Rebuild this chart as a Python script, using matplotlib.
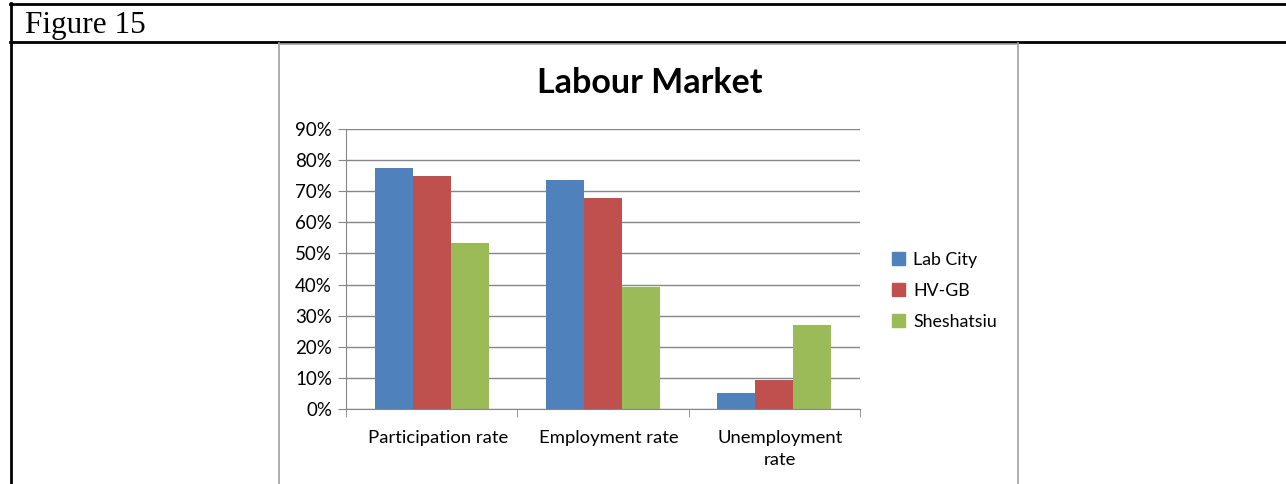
import matplotlib.pyplot as plt
import numpy as np
from matplotlib.lines import Line2D
from matplotlib.patches import Patch
from matplotlib.transforms import ScaledTranslation

categories = ['Participation rate', 'Employment rate', 'Unemployment\nrate']
series = ['Lab City', 'HV-GB', 'Sheshatsiu']
lab_city = [0.776, 0.736, 0.051]
hv_gb = [0.749, 0.678, 0.093]
sheshatsiu = [0.534, 0.392, 0.270]
colors = ['#4F81BD', '#C0504D', '#9BBB59']

W, H = 1286, 484
fig = plt.figure(figsize=(W / 100, H / 100), dpi=100)

# figure / table frame
def hline(y, x0, x1, c='black', lw=2):
    fig.add_artist(Line2D([x0 / W, x1 / W], [1 - y / H, 1 - y / H], color=c, lw=lw))

def vline(x, y0, y1, c='black', lw=2):
    fig.add_artist(Line2D([x / W, x / W], [1 - y0 / H, 1 - y1 / H], color=c, lw=lw))

hline(4, 10, W)
hline(41.5, 10, W)
vline(11, 3, H)
vline(279, 43, H, c='#a0a0a0', lw=1.2)
vline(1018, 43, H, c='#a0a0a0', lw=1.2)
hline(43.5, 279, 1018, c='#a0a0a0', lw=1.2)

fig.text(25 / W, 1 - 33 / H, 'Figure 15', family='Liberation Serif', fontsize=22.5,
         va='baseline', ha='left')

ax = fig.add_axes([346 / W, 75 / H, (860 - 346) / W, (409 - 129) / H])
x = np.arange(len(categories))
bw = 0.222
for i, (vals, name) in enumerate(zip([lab_city, hv_gb, sheshatsiu], series)):
    ax.bar(x + (i - 1) * bw, vals, bw, color=colors[i], label=name, zorder=3)

ax.set_xlim(-0.5, len(categories) - 0.5)
ax.set_ylim(0, 0.9)
yt = np.arange(0, 0.91, 0.1)
ax.set_yticks(yt)
ax.set_yticklabels(['%d%%' % round(v * 100) for v in yt], family='Lato', fontsize=13.5)
ax.yaxis.grid(True, color='#868686', lw=1, zorder=0)
ax.set_xticks(x)
ax.set_xticklabels(categories, family='Lato', fontsize=13.3, linespacing=1.45)
ax.tick_params(axis='x', length=0, pad=15)
# excel puts the labels a little right of centre
for lbl in ax.get_xticklabels():
    lbl.set_transform(lbl.get_transform() + ScaledTranslation(6 / 100, 0, fig.dpi_scale_trans))
ax.set_xticks(np.arange(-0.5, len(categories), 1), minor=True)
ax.tick_params(axis='x', which='minor', length=6, color='#868686', direction='out')
ax.tick_params(axis='y', length=6, color='#868686', pad=4)
for s in ['top', 'right']:
    ax.spines[s].set_visible(False)
for s in ['left', 'bottom']:
    ax.spines[s].set_color('#868686')
    ax.spines[s].set_zorder(4)

fig.text(649.5 / W, 1 - 83 / H, 'Labour Market', family='Lato', fontweight='bold',
         fontsize=24.5, ha='center', va='center')

handles = [Patch(color=c) for c in colors]
fig.legend(handles, series, loc='center left', bbox_to_anchor=(876 / W, 1 - 291 / H),
           frameon=False, prop={'family': 'Lato', 'size': 12.8}, handlelength=0.75,
           handleheight=0.75, handletextpad=0.45, labelspacing=0.85)

fig.savefig('out.png', dpi=100)
